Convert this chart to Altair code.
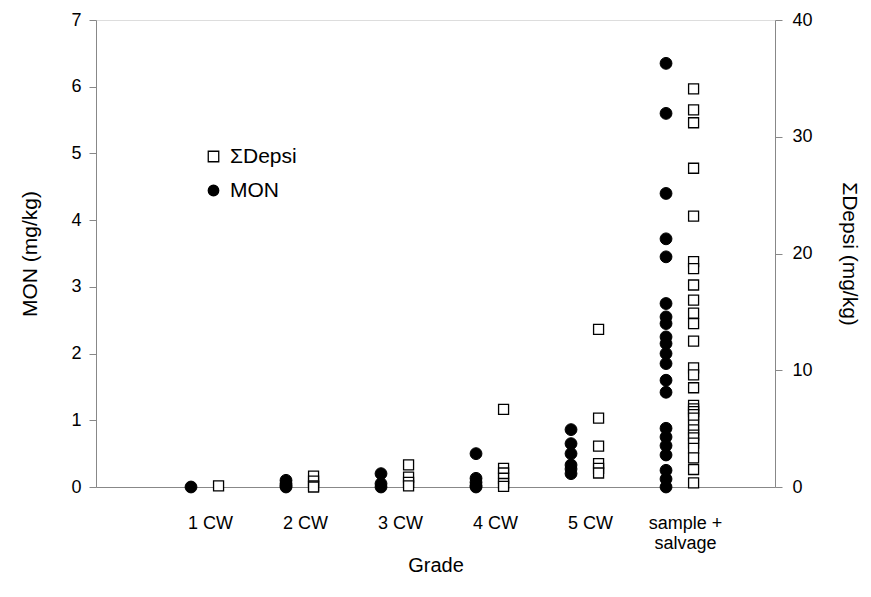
import altair as alt
import pandas as pd

grades = ["1 CW", "2 CW", "3 CW", "4 CW", "5 CW", "sample + salvage"]

mon_values = [
    [0.0],
    [0.1, 0.05, 0.02, 0.0],
    [0.2, 0.05, 0.0],
    [0.5, 0.13, 0.07, 0.02, 0.0],
    [0.86, 0.65, 0.5, 0.33, 0.27, 0.2],
    [6.35, 5.6, 4.4, 3.72, 3.45, 2.75, 2.55, 2.45, 2.25, 2.15, 2.0, 1.85,
     1.6, 1.42, 0.88, 0.75, 0.62, 0.48, 0.25, 0.12, 0.0],
]

depsi_values = [
    [0.1],
    [0.94, 0.5, 0.1, 0.0],
    [1.9, 0.85, 0.4, 0.1],
    [6.65, 1.6, 1.2, 0.75, 0.3, 0.05],
    [13.5, 5.9, 3.5, 2.0, 1.6, 1.2],
    [34.1, 32.3, 31.2, 27.3, 23.2, 19.3, 18.7, 17.3, 16.0, 14.9, 14.0, 12.5,
     10.2, 9.6, 8.5, 7.0, 6.7, 6.45, 6.2, 5.9, 5.3, 4.9, 4.45, 4.2, 3.75,
     3.3, 2.5, 1.5, 0.35],
]

series_names = ["\u03a3Depsi", "MON"]

mon_rows = []
for i, vals in enumerate(mon_values):
    for v in vals:
        mon_rows.append({"grade": grades[i], "pos": i + 1.0, "MON": v, "series": "MON"})
dep_rows = []
for i, vals in enumerate(depsi_values):
    for v in vals:
        dep_rows.append({"grade": grades[i], "pos": i + 1.29, "Depsi": v, "series": "\u03a3Depsi"})

mon_df = pd.DataFrame(mon_rows)
dep_df = pd.DataFrame(dep_rows)

FONT = "Liberation Sans"

x_scale = alt.Scale(domain=[0, 7.147], nice=False, zero=False)
x_axis = alt.Axis(
    title="Grade",
    values=[1.2, 2.2, 3.2, 4.2, 5.2, 6.2],
    labelExpr="datum.value < 6 ? (round(datum.value - 0.2) + ' CW') : ['sample +', 'salvage']",
    ticks=False, grid=False, labelPadding=27, labelFontSize=18, labelLineHeight=20,
    titleFontSize=20, titleFontWeight="normal", titlePadding=3,
    labelBaseline="top",
)

shape_scale = alt.Scale(domain=series_names, range=["square", "circle"])
fill_scale = alt.Scale(domain=series_names, range=["white", "black"])
stroke_scale = alt.Scale(domain=series_names, range=["black", "black"])
legend = alt.Legend(
    title=None, orient="none", legendX=107, legendY=126,
    labelFontSize=21, symbolSize=110, rowPadding=12, symbolStrokeColor="black",
    labelFont=FONT, symbolStrokeWidth=1.3, labelOffset=6,
)

circles = alt.Chart(mon_df).mark_point(filled=False, size=140, strokeWidth=1, opacity=1).encode(
    x=alt.X("pos:Q", scale=x_scale, axis=x_axis),
    y=alt.Y("MON:Q", scale=alt.Scale(domain=[0, 7], nice=False),
            axis=alt.Axis(title="MON (mg/kg)", orient="left", values=list(range(8)),
                          grid=False, tickSize=7, labelPadding=8, labelFontSize=18,
                          titleFontSize=21, titleFontWeight="normal", titlePadding=30)),
    shape=alt.Shape("series:N", scale=shape_scale, legend=legend),
    fill=alt.Fill("series:N", scale=fill_scale, legend=legend),
    stroke=alt.Stroke("series:N", scale=stroke_scale, legend=legend),
)

squares = alt.Chart(dep_df).mark_point(filled=False, size=100, strokeWidth=1.3, opacity=1).encode(
    x=alt.X("pos:Q", scale=x_scale, axis=x_axis),
    y=alt.Y("Depsi:Q", scale=alt.Scale(domain=[0, 40], nice=False),
            axis=alt.Axis(title="\u03a3Depsi (mg/kg)", orient="right", values=[0, 10, 20, 30, 40],
                          grid=False, tickSize=7, labelPadding=10, labelFontSize=18,
                          titleFontSize=21, titleFontWeight="normal", titlePadding=26)),
    shape=alt.Shape("series:N", scale=shape_scale, legend=legend),
    fill=alt.Fill("series:N", scale=fill_scale, legend=legend),
    stroke=alt.Stroke("series:N", scale=stroke_scale, legend=legend),
)

chart = alt.layer(circles, squares).resolve_scale(y="independent").properties(
    width=679, height=467,
    autosize=alt.AutoSizeParams(type="none"),
    padding={"left": 88, "top": 12, "right": 88, "bottom": 100},
).configure_view(stroke=None).configure_axis(
    domainColor="black", tickColor="black", labelColor="black", titleColor="black",
    labelFont=FONT, titleFont=FONT, domainWidth=1.2, tickWidth=1.2,
).configure(background="white")

chart.save("out.html", embed_options={"renderer": "svg", "actions": False})
